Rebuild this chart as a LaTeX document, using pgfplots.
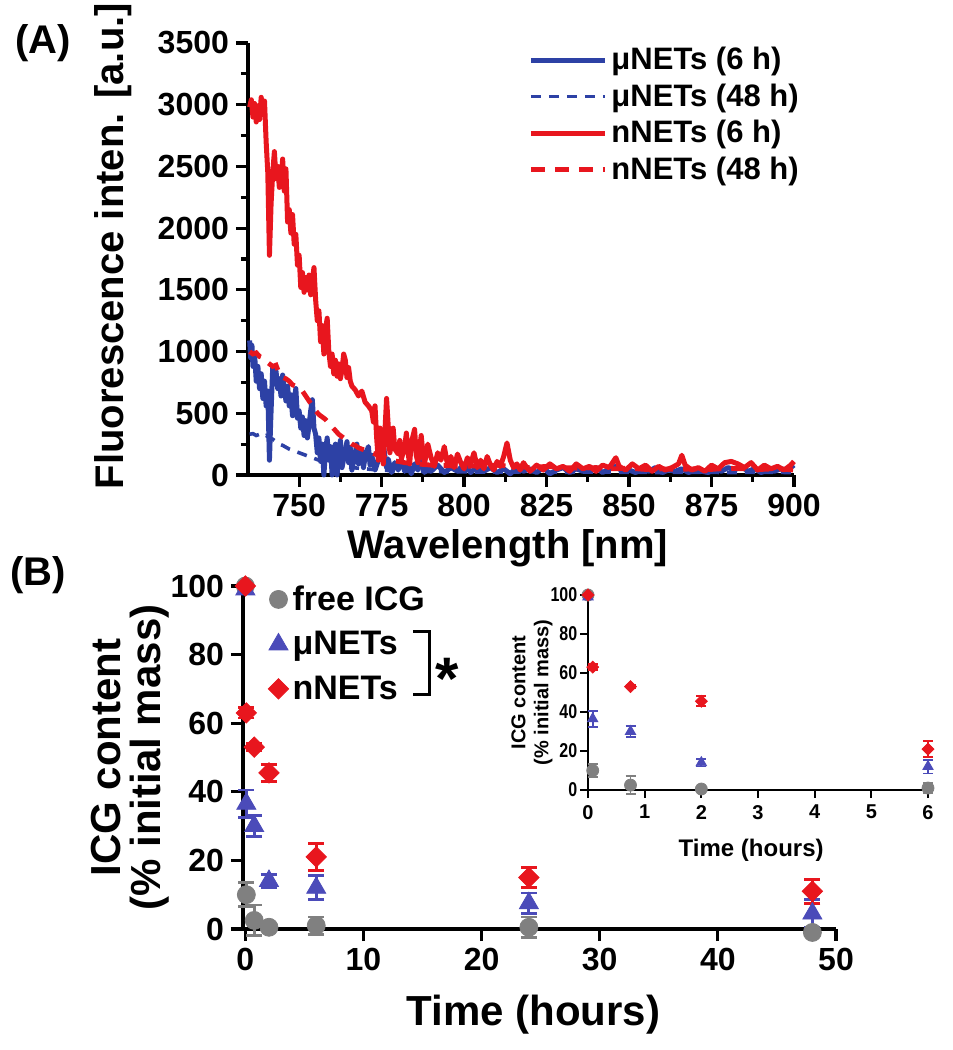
\documentclass[border=0pt]{standalone}
\usepackage{pgfplots}
\pgfplotsset{compat=1.18}
\usepackage{pgfplotstable}
\usepackage{fontspec}
\setmainfont{Liberation Sans}
\definecolor{cred}{RGB}{232,22,30}
\definecolor{cblue}{RGB}{45,65,165}
\definecolor{tblue}{RGB}{75,75,185}
\definecolor{cgray}{RGB}{128,128,128}

% ---------- Panel A spectra ----------
\pgfplotstableread{
x y
735 1090
735.3 950
735.7 1050
736 880
736.5 980
737 760
737.5 880
738 700
738.5 820
739 620
739.5 760
740 560
740.5 680
741 120
741.4 450
742 880
742.5 760
743 840
743.5 700
744 780
744.5 640
745 810
745.5 700
746 600
746.5 720
747 560
747.5 650
748 480
748.5 610
749 700
749.5 460
750 520
750.5 380
751 470
751.5 320
752 440
752.5 300
753 400
753.5 520
754 610
754.5 380
755 330
755.5 180
756 300
756.5 110
757 250
757.5 0
758 200
758.5 300
759 120
759.5 230
760 0
760.5 180
761 250
761.5 0
762 150
762.5 280
763 60
764 200
764.5 270
765 100
765.5 220
766 40
767 180
767.5 250
768 90
769 200
769.5 60
770 150
771 230
771.5 80
772 160
773 40
774 120
775 220
775.5 260
776 150
776.5 60
777 130
778 20
779 100
780 40
781 120
782 30
783 80
784 10
785 90
786 40
787 110
788 20
789 70
790 30
792 80
794 20
796 60
798 30
800 90
802 20
804 70
806 30
808 60
810 20
812 50
814 10
816 60
818 30
820 50
822 20
824 60
826 10
828 40
830 60
832 20
834 50
836 30
838 40
840 60
842 20
844 50
846 70
848 30
850 40
852 20
854 50
856 30
858 60
860 20
862 40
864 30
866 50
868 20
870 40
872 30
874 20
876 50
878 30
880 60
882 40
884 70
886 30
888 50
890 20
892 40
894 30
896 50
898 40
900 80
}\muSix

\pgfplotstableread{
x y
735 330
736 335
737 320
738 330
739 310
740 320
741 300
742 290
743 270
744 250
745 240
746 225
747 210
748 200
749 190
750 180
752 160
754 140
756 120
758 105
760 90
762 80
764 70
766 60
768 55
770 50
772 45
774 40
776 38
778 35
780 32
785 30
790 28
795 26
800 25
810 24
820 25
830 22
840 24
850 22
860 20
870 22
880 20
890 22
900 20
}\muFE

\pgfplotstableread{
x y
735 2980
735.5 3040
736 2900
736.5 3010
737 2860
737.5 2990
738 2880
738.5 3060
739 2950
739.5 3030
740 2700
740.5 2450
741 1780
741.5 2200
742 2450
742.5 2620
743 2400
743.5 2500
744 2330
744.5 2380
745 2560
745.5 2300
746 2480
746.5 2050
747 2150
747.5 1960
748 2110
748.5 1870
749 1950
749.5 1700
750 1780
750.5 1520
751 1640
751.5 1480
752 1600
752.5 1500
753 1620
753.5 1460
754 1580
754.5 1680
755 1420
755.5 1250
756 1330
756.5 1080
757 1210
757.5 980
758 1180
758.5 1270
759 1000
759.5 880
760 980
760.5 820
761 930
761.5 800
762 900
762.5 780
763 850
763.5 980
764 930
764.5 790
765 870
765.5 760
766 720
767 690
768 640
769 680
770 590
771 560
772 520
772.5 430
773 560
773.5 300
774 120
774.5 380
775 200
775.5 90
776 350
776.5 620
777 400
777.5 180
778 250
778.5 380
779 210
780 170
780.5 280
781 130
782 230
782.5 340
783 180
783.5 90
784 260
785 370
785.5 160
786 100
787 320
787.5 180
788 90
789 250
790 140
791 70
792 180
793 120
794 230
795 80
796 150
797 60
798 170
799 100
800 50
801 140
802 90
803 180
804 60
805 120
806 50
807 150
808 80
809 40
810 110
811 70
812 150
813 260
814 120
815 60
816 90
817 40
818 100
819 60
820 30
822 80
824 40
826 90
828 50
830 70
832 30
834 90
836 50
838 70
840 30
842 80
844 60
846 140
847 70
849 40
851 90
853 50
855 80
857 30
859 70
861 40
863 60
865 90
866 160
867 80
869 40
871 60
873 30
875 80
877 50
879 100
881 110
883 90
885 60
887 100
889 40
891 80
893 50
895 70
897 40
899 80
900 110
}\nSix

\pgfplotstableread{
x y
735 1000
736 980
737 990
738 960
739 950
740 920
741 900
742 880
743 890
744 820
745 790
746 780
747 760
748 730
749 720
750 700
751 680
752 640
753 600
754 560
755 520
756 490
757 470
758 450
759 420
760 390
761 360
762 330
763 310
764 290
765 270
766 250
767 240
768 220
770 200
772 180
774 160
776 140
778 120
780 110
782 100
785 90
788 85
790 80
795 75
800 70
805 75
810 80
815 70
820 60
825 70
830 60
835 55
840 60
845 50
850 55
855 45
860 50
865 45
870 50
875 45
880 55
885 50
890 45
895 50
900 40
}\nFE

% ---------- Panel B release data ----------
\pgfplotstableread{
t y e
0 100 0
0.083 10 3.5
0.75 2.5 4.5
2 0.5 0.5
6 1 2.5
24 0.5 3
48 -1 0
}\grayB

\pgfplotstableread{
t y e
0 99 0
0.083 36.5 4
0.75 30 3
2 14 2
6 12 3.5
24 7.5 3
48 4.5 4
}\blueB

\pgfplotstableread{
t y e
0 100 0
0.083 63 1.5
0.75 53 1
2 45.5 2.5
6 21 4
24 15 3
48 11 3.5
}\redB

\begin{document}
\begin{tikzpicture}
\useasboundingbox (0,0) rectangle (476.5pt,525pt);

% ================= Panel A =================
\begin{axis}[
  at={(124pt,287.5pt)}, anchor=south west,
  scale only axis, width=273pt, height=216pt,
  xmin=734.5, xmax=900, ymin=0, ymax=3500,
  clip=false,
  axis lines*=left,
  axis line style={line width=2pt, black},
  tick align=outside,
  major tick length=6pt, minor tick length=3.5pt,
  every tick/.style={line width=1.6pt, black},
  xtick={750,775,...,900}, ytick={0,500,...,3500},
  minor x tick num=1, minor y tick num=1,
  /pgf/number format/assume math mode=true,
  /pgf/number format/1000 sep={},
  ticklabel style={font=\bfseries\fontsize{16}{16}\selectfont},
  xlabel={Wavelength [nm]},
  ylabel={Fluorescence inten. [a.u.]},
  xlabel style={at={(axis description cs:0.476,-0.169)}, anchor=center, font=\bfseries\fontsize{20}{20}\selectfont},
  ylabel style={at={(axis description cs:-0.247,0.53)}, anchor=center, font=\bfseries\fontsize{20}{20}\selectfont},
  legend style={at={(rel axis cs:0.513,1.0)}, anchor=north west, draw=none, fill=none,
    inner sep=0pt, row sep=1.5pt, font=\bfseries\fontsize{15.5}{18}\selectfont},
  legend cell align=left,
  legend image code/.code={\draw[#1] (0pt,0pt) -- (37pt,0pt);},
]
\addplot[cblue, line width=2.5pt, line join=round] table[x=x,y=y] {\muSix};
\addlegendentry{μNETs (6 h)}
\addplot[cblue, line width=1.8pt, dash pattern=on 5pt off 4pt] table[x=x,y=y] {\muFE};
\addlegendentry{μNETs (48 h)}
\addplot[cred, line width=2.5pt, line join=round] table[x=x,y=y] {\nSix};
\addlegendentry{nNETs (6 h)}
\addplot[cred, line width=2.4pt, dash pattern=on 7pt off 5pt] table[x=x,y=y] {\nFE};
\addlegendentry{nNETs (48 h)}
\end{axis}

% ================= Panel B =================
\begin{axis}[
  at={(121.5pt,60.5pt)}, anchor=south west,
  scale only axis, width=296.5pt, height=171.5pt,
  xmin=-0.2, xmax=50, ymin=0, ymax=100,
  clip=false,
  axis lines*=left,
  axis line style={line width=2pt, black},
  tick align=outside,
  major tick length=6pt,
  every tick/.style={line width=1.6pt, black},
  xtick={0,10,...,50}, ytick={0,20,...,100},
  /pgf/number format/assume math mode=true,
  ticklabel style={font=\bfseries\fontsize{16}{16}\selectfont},
  xlabel={Time (hours)},
  ylabel={ICG content\\(\% initial mass)},
  xlabel style={at={(axis description cs:0.49,-0.25)}, anchor=center, font=\bfseries\fontsize{21}{21}\selectfont},
  ylabel style={at={(axis description cs:-0.19,0.5)}, anchor=center, align=center, font=\bfseries\fontsize{21}{20}\selectfont},
  legend style={at={(rel axis cs:0.042,1.014)}, anchor=north west, draw=none, fill=none,
    inner sep=0pt, row sep=5pt, font=\bfseries\fontsize{17}{19}\selectfont},
  legend cell align=left,
  legend image code/.code={\draw[mark repeat=2,mark phase=2,#1] plot coordinates {(0pt,0pt) (6pt,0pt) (12pt,0pt)};},
]
\addplot[only marks, mark=*, mark size=4.5pt, color=cgray, mark options={fill=cgray, draw=cgray},
  error bars/.cd, y dir=both, y explicit,
  error bar style={line width=1.4pt, cgray},
  error mark options={rotate=90, mark size=4pt, line width=1.4pt, cgray}]
  table[x=t, y=y, y error=e] {\grayB};
\addlegendentry{free ICG}
\addplot[only marks, mark=triangle*, mark size=5.5pt, color=tblue, mark options={fill=tblue, draw=tblue},
  error bars/.cd, y dir=both, y explicit,
  error bar style={line width=1.4pt, tblue},
  error mark options={rotate=90, mark size=4pt, line width=1.4pt, tblue}]
  table[x=t, y=y, y error=e] {\blueB};
\addlegendentry{μNETs}
\addplot[only marks, mark=square*, mark size=3.6pt, color=cred, mark options={fill=cred, draw=cred, rotate=45},
  error bars/.cd, y dir=both, y explicit,
  error bar style={line width=1.4pt, cred},
  error mark options={rotate=90, mark size=4pt, line width=1.4pt, cred}]
  table[x=t, y=y, y error=e] {\redB};
\addlegendentry{nNETs}
\end{axis}

% ================= Inset =================
\begin{axis}[
  at={(294pt,130pt)}, anchor=south west,
  scale only axis, width=170pt, height=97.5pt,
  xmin=0, xmax=6, ymin=0, ymax=100,
  clip=false,
  restrict x to domain=0:6,
  axis lines*=left,
  axis line style={line width=1.2pt, black},
  tick align=outside,
  major tick length=4pt,
  every tick/.style={line width=1pt, black},
  xtick={0,1,...,6}, ytick={0,20,...,100},
  /pgf/number format/assume math mode=true,
  ticklabel style={font=\bfseries\fontsize{10}{10}\selectfont},
  yticklabel style={xscale=0.8, inner sep=1.5pt},
  xlabel={Time (hours)},
  ylabel={ICG content\\(\% initial mass)},
  xlabel style={at={(axis description cs:0.48,-0.31)}, anchor=center, font=\bfseries\fontsize{12}{12}\selectfont},
  ylabel style={at={(axis description cs:-0.165,0.5)}, anchor=center, align=center, font=\bfseries\fontsize{10}{11.5}\selectfont},
]
\addplot[only marks, mark=*, mark size=3pt, color=cgray, mark options={fill=cgray, draw=cgray},
  error bars/.cd, y dir=both, y explicit,
  error bar style={line width=0.9pt, cgray},
  error mark options={rotate=90, mark size=2.5pt, line width=0.9pt, cgray}]
  table[x=t, y=y, y error=e] {\grayB};
\addplot[only marks, mark=triangle*, mark size=3pt, color=tblue, mark options={fill=tblue, draw=tblue},
  error bars/.cd, y dir=both, y explicit,
  error bar style={line width=0.9pt, tblue},
  error mark options={rotate=90, mark size=2.5pt, line width=0.9pt, tblue}]
  table[x=t, y=y, y error=e] {\blueB};
\addplot[only marks, mark=square*, mark size=2.1pt, color=cred, mark options={fill=cred, draw=cred, rotate=45},
  error bars/.cd, y dir=both, y explicit,
  error bar style={line width=0.9pt, cred},
  error mark options={rotate=90, mark size=2.5pt, line width=0.9pt, cred}]
  table[x=t, y=y, y error=e] {\redB};
\end{axis}

% ================= Annotations =================
\node[font=\bfseries\fontsize{20}{20}\selectfont] at (21.5pt,503.5pt) {(A)};
\node[font=\bfseries\fontsize{20}{20}\selectfont] at (19pt,237.5pt) {(B)};
\draw[line width=1.5pt] (206.5pt,209pt) -- (214.5pt,209pt) -- (214.5pt,177.5pt) -- (206.5pt,177.5pt);
\node[font=\bfseries\fontsize{30}{30}\selectfont, inner sep=0pt] at (223.5pt,185.5pt) {*};
\end{tikzpicture}
\end{document}
